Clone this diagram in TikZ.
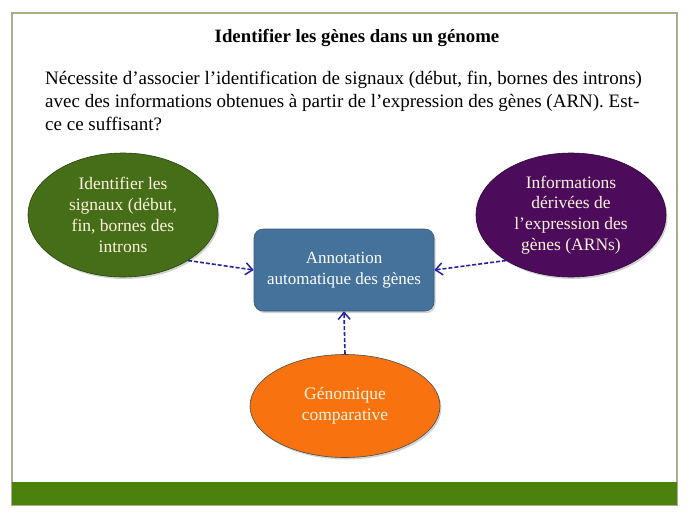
\documentclass[tikz,border=0pt]{standalone}
\usepackage{fontspec}
\setmainfont{Liberation Serif}
\usetikzlibrary{shapes.geometric,arrows.meta,shadows}
\definecolor{frameC}{HTML}{A9AE8A}
\definecolor{barC}{HTML}{4C820B}
\definecolor{greenC}{HTML}{466E18}
\definecolor{purpleC}{HTML}{4D0C5B}
\definecolor{orangeC}{HTML}{F8730F}
\definecolor{boxC}{HTML}{44729B}
\definecolor{arrowC}{HTML}{2323A6}
\definecolor{textC}{HTML}{FBF3DC}
\tikzset{
  oval/.style={ellipse, draw=#1!60!black, line width=0.6pt, minimum width=190pt, minimum height=124pt, inner sep=0pt,
    text=textC, align=center, font=\fontsize{17.5}{20.8}\selectfont,
    drop shadow={shadow xshift=1.5pt, shadow yshift=-2pt, opacity=0.35}},
  link/.style={draw=arrowC, line width=1.6pt, dashed, dash pattern=on 4pt off 2pt,
    -{Straight Barb[length=7pt,width=12pt,line width=1.5pt]}},
}
\begin{document}
\begin{tikzpicture}[x=1pt,y=-1pt]
\useasboundingbox (0,0) rectangle (689,517);
\fill[white] (0,0) rectangle (689,517);
\draw[frameC, line width=1.2pt] (12,13) rectangle (677,505);
\fill[barC] (12,482) rectangle (677,505);

\node[font=\bfseries\fontsize{18.8}{22}\selectfont] (title) at (357,38) {Identifier les gènes dans un génome};
\node[anchor=north west, align=left, inner sep=0pt, font=\fontsize{19}{23.2}\selectfont] (para) at (45,71)
  {Nécessite d’associer l’identification de signaux (début, fin, bornes des introns)\\
   avec des informations obtenues à partir de l’expression des gènes (ARN). Est-\\
   ce ce suffisant?};

\node[oval=greenC, fill=greenC] (g) at (123,215) {Identifier les\\signaux (début,\\fin, bornes des\\introns};
\node[oval=purpleC, fill=purpleC] (p) at (571,215) {Informations\\dérivées de\\l’expression des\\gènes (ARNs)};
\node[oval=orangeC, fill=orangeC, minimum height=103pt, draw=black!70] (o) at (345,406) {Génomique\\comparative};

\node[rounded corners=9pt, fill=boxC, draw=boxC!80!black, line width=0.6pt, minimum width=180pt, minimum height=82pt,
  text=white, align=center, font=\fontsize{17}{21}\selectfont,
  drop shadow={shadow xshift=1.5pt, shadow yshift=-2pt, opacity=0.35}] (a) at (344,270)
  {Annotation\\automatique des gènes};

\draw[link] (g.-35) -- (a.west);
\draw[link] (p.-145) -- (a.east);
\draw[link] (o.north) -- (a.south);
\end{tikzpicture}
\end{document}
